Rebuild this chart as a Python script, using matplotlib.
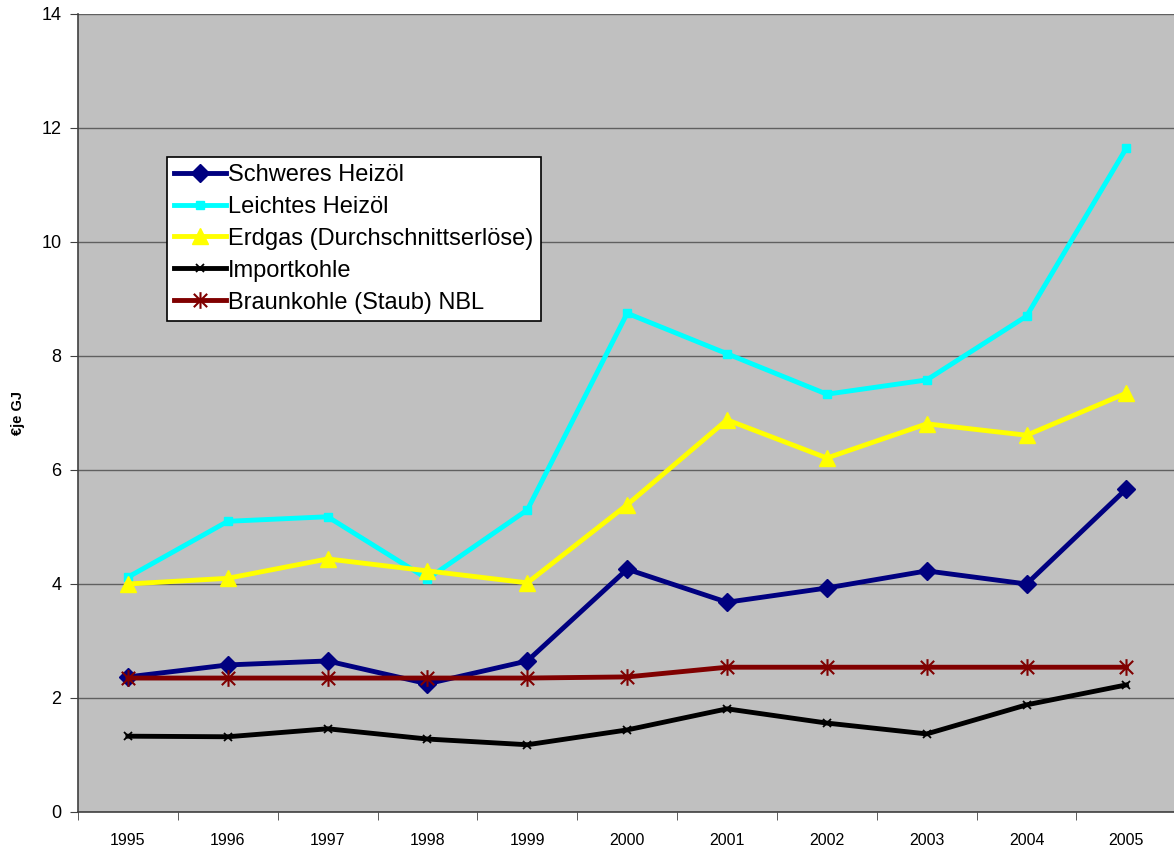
import matplotlib
matplotlib.use("Agg")
import matplotlib.pyplot as plt
from matplotlib.path import Path
import numpy as np

plt.rcParams['font.family'] = ['Liberation Sans', 'DejaVu Sans']

years = ['1995', '1996', '1997', '1998', '1999', '2000', '2001', '2002', '2003', '2004', '2005']
schweres = [2.37, 2.58, 2.65, 2.25, 2.65, 4.26, 3.68, 3.93, 4.23, 4.00, 5.67]
leichtes = [4.12, 5.10, 5.18, 4.09, 5.30, 8.75, 8.04, 7.33, 7.58, 8.70, 11.65]
erdgas = [4.00, 4.10, 4.44, 4.23, 4.02, 5.39, 6.88, 6.21, 6.81, 6.61, 7.35]
importkohle = [1.33, 1.32, 1.46, 1.28, 1.18, 1.44, 1.81, 1.56, 1.37, 1.88, 2.23]
braunkohle = [2.35, 2.35, 2.35, 2.35, 2.35, 2.37, 2.54, 2.54, 2.54, 2.54, 2.54]
yticks = [0, 2, 4, 6, 8, 10, 12, 14]

# asterisk marker: vertical bar plus an X
star = Path([(0, -1), (0, 1), (-0.8, -0.8), (0.8, 0.8), (-0.8, 0.8), (0.8, -0.8)],
            [Path.MOVETO, Path.LINETO, Path.MOVETO, Path.LINETO, Path.MOVETO, Path.LINETO])

fig = plt.figure(figsize=(11.74, 8.5), dpi=100)
ax = fig.add_axes([78/1174, 1-812/850, 1-78/1174+0.002, (812-14)/850])
ax.set_facecolor('#C0C0C0')

x = np.arange(len(years))
ax.plot(x, schweres, color='#000080', lw=3.5, marker='D', ms=9, label='Schweres Heizöl')
ax.plot(x, leichtes, color='#00FFFF', lw=3.5, marker='s', ms=6, label='Leichtes Heizöl')
ax.plot(x, erdgas, color='#FFFF00', lw=3.5, marker='^', ms=11, label='Erdgas (Durchschnittserlöse)')
ax.plot(x, importkohle, color='#000000', lw=3.5, marker='x', ms=6, mew=1.3, label='Importkohle')
ax.plot(x, braunkohle, color='#800000', lw=3.5, marker=star, ms=12, mew=1.5, label='Braunkohle (Staub) NBL')

ax.set_xlim(-0.5, len(years) - 0.5)
ax.set_ylim(0, 14)
ax.set_yticks(yticks)
ax.set_yticklabels([str(v) for v in yticks], fontsize=13)
ax.set_xticks(x)
ax.set_xticklabels(years, fontsize=11.5)
ax.set_xticks(np.arange(-0.5, len(years)), minor=True)
ax.tick_params(axis='x', which='major', length=0, pad=15)
ax.tick_params(axis='x', which='minor', length=6, color='#404040', direction='out')
ax.tick_params(axis='y', length=6, color='#404040', direction='out', pad=6)
ax.yaxis.grid(True, color='#606060', lw=1)
ax.set_axisbelow(True)
for s in ['top', 'right']:
    ax.spines[s].set_visible(False)
for s in ['left', 'bottom']:
    ax.spines[s].set_color('#404040')
    ax.spines[s].set_linewidth(1.2)

ax.set_ylabel('€je GJ', fontsize=10.5, fontweight='bold', labelpad=12)

leg = ax.legend(loc='upper left', bbox_to_anchor=(0.081, 0.821), fontsize=17,
                frameon=True, fancybox=False, framealpha=1, edgecolor='black',
                borderpad=0.3, labelspacing=0.42, handlelength=2.2, handletextpad=0.1,
                borderaxespad=0)
leg.get_frame().set_linewidth(1.2)

fig.savefig('out.png', dpi=100)
